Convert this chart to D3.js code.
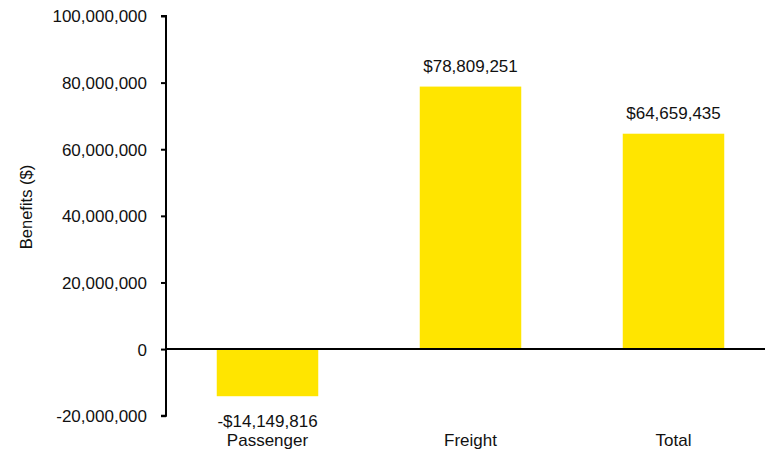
<!DOCTYPE html>
<html>
<head>
<meta charset="utf-8">
<script src="https://cdn.jsdelivr.net/npm/d3@7"></script>
<style>
  body { margin: 0; background: #fff; }
  text { font-family: "Liberation Sans", Arial, sans-serif; fill: #111; }
</style>
</head>
<body>
<svg id="chart" width="765" height="457"></svg>
<script>
const categories = ["Passenger", "Freight", "Total"];
const benefits = [-14149816, 78809251, 64659435];
const valueLabels = ["-$14,149,816", "$78,809,251", "$64,659,435"];
const yTicks = [-20000000, 0, 20000000, 40000000, 60000000, 80000000, 100000000];
const yTitle = "Benefits ($)";

const svg = d3.select("#chart");
const axisX = 166;

const y = d3.scaleLinear().domain([-20000000, 100000000]).range([415.7, 16]);
const x = d3.scaleBand().domain(categories).range([axisX, 775]).paddingInner(0.5).paddingOuter(0.25);

// bars
svg.selectAll("rect.bar").data(benefits).enter().append("rect")
  .attr("class", "bar")
  .attr("x", (d, i) => x(categories[i]))
  .attr("width", x.bandwidth())
  .attr("y", d => y(Math.max(0, d)))
  .attr("height", d => Math.abs(y(d) - y(0)))
  .attr("fill", "#FFE500");

// zero line
svg.append("line")
  .attr("x1", axisX).attr("x2", 765)
  .attr("y1", y(0)).attr("y2", y(0))
  .attr("stroke", "#000").attr("stroke-width", 2);

// y axis
const fmt = d3.formatLocale({decimal: ".", thousands: ",", grouping: [3], currency: ["$", ""], minus: "-"}).format(",");
const yAxis = d3.axisLeft(y).tickValues(yTicks).tickSize(5).tickPadding(14).tickFormat(fmt);
const gy = svg.append("g").attr("transform", `translate(${axisX},0)`).call(yAxis);
gy.select(".domain").attr("stroke", "#000").attr("stroke-width", 2).attr("d", `M-5,${y(100000000)}H0V${y(-20000000)}H-5`);
gy.selectAll(".tick line").attr("stroke", "#000").attr("stroke-width", 2);
gy.selectAll(".tick text").style("font-size", "17px").style("font-family", "'Liberation Sans', Arial, sans-serif").attr("fill", "#111").attr("dy", "0.35em");

// y title
svg.append("text")
  .attr("transform", `translate(32,207) rotate(-90)`)
  .attr("text-anchor", "middle")
  .style("font-size", "16.5px")
  .text(yTitle);

// value labels
svg.selectAll("text.val").data(benefits).enter().append("text")
  .attr("class", "val")
  .attr("x", (d, i) => x(categories[i]) + x.bandwidth() / 2)
  .attr("y", d => d >= 0 ? y(d) - 15 : y(d) + 31)
  .attr("text-anchor", "middle")
  .style("font-size", "17px")
  .text((d, i) => valueLabels[i]);

// category labels
svg.selectAll("text.cat").data(categories).enter().append("text")
  .attr("class", "cat")
  .attr("x", d => x(d) + x.bandwidth() / 2)
  .attr("y", 446)
  .attr("text-anchor", "middle")
  .style("font-size", "17px")
  .text(d => d);
</script>
</body>
</html>
